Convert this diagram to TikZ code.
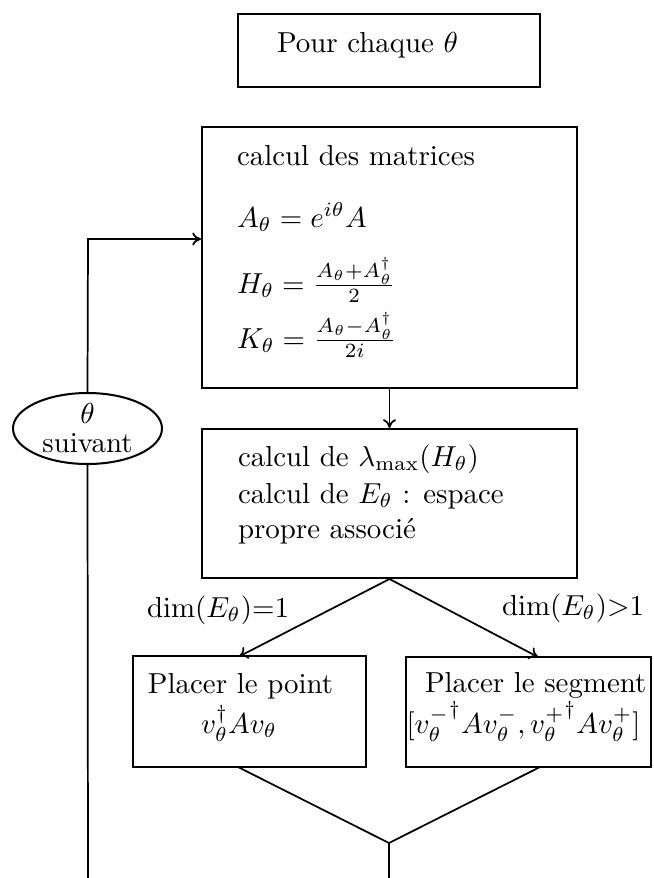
\documentclass[tikz,border=0pt]{standalone}
\usepackage{amsmath}
\usetikzlibrary{shapes.geometric,arrows.meta}
\tikzset{
  boxwh/.style 2 args={draw, line width=0.7pt, rectangle, inner sep=0pt,
    minimum width=#1*0.346pt, minimum height=#2*0.346pt},
  txt/.style={inner sep=0pt, outer sep=0pt, anchor=base west},
  ctxt/.style={inner sep=0pt, outer sep=0pt, anchor=base},
  conn/.style={line width=0.6pt},
  arr/.style={line width=0.6pt, -{To[length=3pt,width=4.5pt]}},
}
\begin{document}
\begin{tikzpicture}[x=0.346pt, y=-0.346pt]
\useasboundingbox (0,0) rectangle (654,878);
% boxes
\node[boxwh={302}{73}] (top) at (389,50.5) {};
\node[boxwh={375}{261}] (b2) at (389.5,257.5) {};
\node[boxwh={375}{149}] (b3) at (389.5,503.5) {};
\node[boxwh={233}{111}] (bl) at (249.5,711.5) {};
\node[boxwh={245}{110}] (br) at (528.5,712) {};
\node[draw, line width=0.7pt, ellipse, inner sep=0pt, align=center,
  minimum width=149*0.346pt, minimum height=71*0.346pt] (ell) at (87.5,428.5)
  {$\theta$\\[-2pt]suivant};
% texts
\node[txt] (ttop) at (277,52) {Pour chaque $\theta$};
\node[txt] (t21) at (237,165) {calcul des matrices};
\node[txt] (t22) at (237,227) {$A_\theta = e^{i\theta}A$};
\node[txt] (t23) at (237,293) {$H_\theta = \frac{A_\theta+A_\theta^\dagger}{2}$};
\node[txt] (t24) at (237,348) {$K_\theta = \frac{A_\theta-A_\theta^\dagger}{2i}$};
\node[txt] (t31) at (238,466) {calcul de $\lambda_{\max}(H_\theta)$};
\node[txt] (t32) at (238,503) {calcul de $E_\theta$ : espace};
\node[txt] (t33) at (238,538) {propre associ\'e};
\node[txt] (tl1) at (148,693) {Placer le point};
\node[ctxt] (tl2) at (239,733) {$v_\theta^\dagger A v_\theta$};
\node[txt] (tr1) at (425,692) {Placer le segment};
\node[txt] (tr2) at (406.5,733) {$[{v_\theta^-}^\dagger A v_\theta^-, {v_\theta^+}^\dagger A v_\theta^+]$};
\node[txt] (lab1) at (147,617) {$\dim(E_\theta)$=1};
\node[txt] (lab2) at (502,615) {$\dim(E_\theta)$>1};
% coordinates
\coordinate (bltop) at (239,656.5);
\coordinate (brtop) at (538,657);
\coordinate (blbot) at (238,767);
\coordinate (brbot) at (540,767);
\coordinate (join) at (389,843);
\coordinate (endc) at (389,880);
\coordinate (endl) at (88,880);
\coordinate (corner) at (88,239);
% connectors
\draw[arr] (b2.south) -- (b3.north);
\draw[arr] (b3.south) -- (bltop);
\draw[arr] (b3.south) -- (brtop);
\draw[conn] (blbot) -- (join) -- (brbot);
\draw[conn] (join) -- (endc);
\draw[conn] (endl) -- (ell.south);
\draw[arr] (ell.north) -- (corner) -- (corner -| b2.west);
\end{tikzpicture}
\end{document}
